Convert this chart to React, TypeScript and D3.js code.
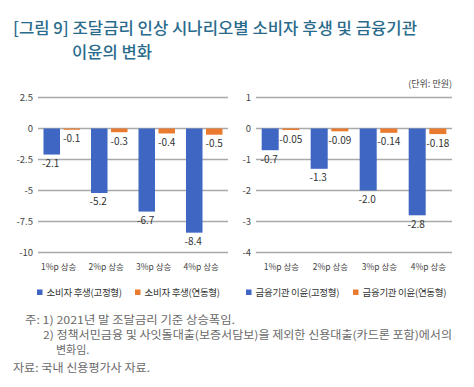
import React from 'react';
import * as d3 from 'd3';

// data
const categories = ['1%p 상승', '2%p 상승', '3%p 상승', '4%p 상승'];
const welfareFixed = [-2.1, -5.2, -6.7, -8.4];
const welfareFloat = [-0.1, -0.3, -0.4, -0.5];
const profitFixed = [-0.7, -1.3, -2.0, -2.8];
const profitFloat = [-0.05, -0.09, -0.14, -0.18];
const welfareTicks = [2.5, 0, -2.5, -5, -7.5, -10];
const profitTicks = [1, 0, -1, -2, -3, -4];
const welfareLabels = ['-2.1', '-5.2', '-6.7', '-8.4'];
const welfareFloatLabels = ['-0.1', '-0.3', '-0.4', '-0.5'];
const profitLabels = ['-0.7', '-1.3', '-2.0', '-2.8'];
const profitFloatLabels = ['-0.05', '-0.09', '-0.14', '-0.18'];
const legendItems = ['소비자 후생(고정형)', '소비자 후생(연동형)', '금융기관 이윤(고정형)', '금융기관 이윤(연동형)'];

const BLUE = '#3e66c2';
const ORANGE = '#ea7a2e';
const GRID = '#a9a9a9';
const FONT = '"Noto Sans CJK KR", "Noto Sans", sans-serif';

type PanelProps = {
  x0: number;
  x1: number;
  domain: [number, number];
  ticks: number[];
  fixed: number[];
  float: number[];
  fixedLabels: string[];
  floatLabels: string[];
  catShift: number;
};

const Panel = ({ x0, x1, domain, ticks, fixed, float, fixedLabels, floatLabels, catShift }: PanelProps) => {
  const y = d3.scaleLinear().domain(domain).range([252.5, 97.5]);
  const x = d3.scaleBand().domain(categories).range([x0, x1]).padding(0);
  const xs = d3.scaleBand().domain(['fixed', 'float']).range([0, x.bandwidth()])
    .paddingInner(0.175).paddingOuter(0.275);
  const bw = xs.bandwidth();

  return (
    <g>
      {ticks.map(t => (
        <g key={t}>
          <line x1={x0} x2={x1} y1={y(t)} y2={y(t)} stroke={GRID} strokeWidth={1.4} />
          <text x={x0 - 5} y={y(t)} dy="0.35em" textAnchor="end" fontSize={9.5} fill="#444">{String(t)}</text>
        </g>
      ))}
      {categories.map((c, i) => {
        const gx = x(c)!;
        const bx = gx + xs('fixed')!;
        const ox = gx + xs('float')!;
        return (
          <g key={c}>
            <rect x={bx} y={y(0)} width={bw} height={y(fixed[i]) - y(0)} fill={BLUE} />
            <rect x={ox} y={y(0)} width={bw} height={y(float[i]) - y(0)} fill={ORANGE} />
            <text x={bx + bw / 2 - 1} y={y(fixed[i]) + 12.5} textAnchor="middle" fontSize={10} fill="#333">{fixedLabels[i]}</text>
            <text x={ox + bw / 2} y={y(float[i]) + 12.5} textAnchor="middle" fontSize={10} fill="#333">{floatLabels[i]}</text>
            <text x={gx + x.bandwidth() / 2 + catShift} y={270} textAnchor="middle" fontSize={8.5} fill="#444">{c}</text>
          </g>
        );
      })}
    </g>
  );
};

const App = () => {
  const legendX = [37, 135, 246, 353];
  return (
    <svg width={474} height={387} style={{ position: 'absolute', left: 0, top: 0, background: '#fff' }} fontFamily={FONT}>
      <text x={13} y={34} fontSize={16} fontWeight={500} fill="#2a6b8c" textLength={404} lengthAdjust="spacingAndGlyphs">[그림 9] 조달금리 인상 시나리오별 소비자 후생 및 금융기관</text>
      <text x={72} y={58} fontSize={16} fontWeight={500} fill="#2a6b8c" textLength={80} lengthAdjust="spacingAndGlyphs">이윤의 변화</text>
      <text x={452} y={87} textAnchor="end" fontSize={9} fill="#444">(단위: 만원)</text>

      <Panel x0={38} x1={228} domain={[-10, 2.5]} ticks={welfareTicks} fixed={welfareFixed} float={welfareFloat}
        fixedLabels={welfareLabels} floatLabels={welfareFloatLabels} catShift={-3} />
      <Panel x0={256} x1={452} domain={[-4, 1]} ticks={profitTicks} fixed={profitFixed} float={profitFloat}
        fixedLabels={profitLabels} floatLabels={profitFloatLabels} catShift={1} />

      {legendItems.map((l, i) => (
        <g key={l}>
          <rect x={legendX[i]} y={289.5} width={5.5} height={5.5} fill={i % 2 === 0 ? BLUE : ORANGE} />
          <text x={legendX[i] + 9.5} y={295.5} fontSize={9.5} fill="#333" letterSpacing={-0.3}>{l}</text>
        </g>
      ))}

      <g fontSize={11} fill="#6a6a6a">
        <text x={25} y={324} textLength={210} lengthAdjust="spacingAndGlyphs">주: 1) 2021년 말 조달금리 기준 상승폭임.</text>
        <text x={43} y={339} textLength={409} lengthAdjust="spacingAndGlyphs">2) 정책서민금융 및 사잇돌대출(보증서담보)을 제외한 신용대출(카드론 포함)에서의</text>
        <text x={56} y={354}>변화임.</text>
        <text x={13} y={371.5} textLength={137} lengthAdjust="spacingAndGlyphs">자료: 국내 신용평가사 자료.</text>
      </g>
    </svg>
  );
};

export default App;
